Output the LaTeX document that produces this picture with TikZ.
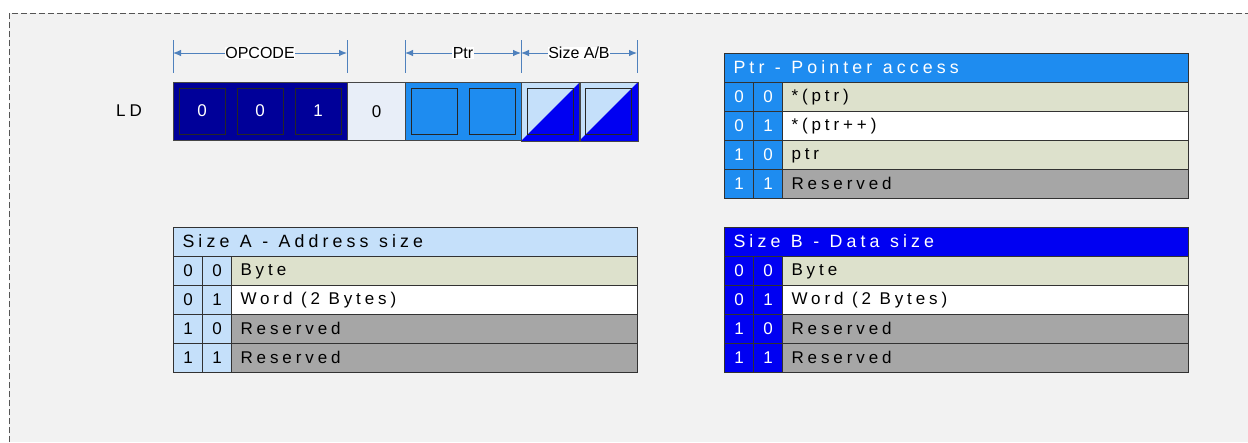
\documentclass[tikz,border=0pt]{standalone}
\usepackage{fontspec}
\setmainfont{Liberation Sans}
\newfontfamily\spc[LetterSpace=23]{Liberation Sans}
\usetikzlibrary{arrows.meta}
\definecolor{bgc}{RGB}{242,242,242}
\definecolor{borderc}{RGB}{85,85,85}
\definecolor{opc}{RGB}{0,0,153}
\definecolor{zeroc}{RGB}{232,238,248}
\definecolor{ptrc}{RGB}{30,140,240}
\definecolor{lightA}{RGB}{197,224,250}
\definecolor{blueB}{RGB}{0,0,242}
\definecolor{beige}{RGB}{221,225,204}
\definecolor{grayrow}{RGB}{166,166,166}
\definecolor{dimc}{RGB}{79,129,189}
\definecolor{segc}{RGB}{70,70,70}
\definecolor{tabc}{RGB}{50,50,50}
\newcommand{\tst}{\rule[-1pt]{0pt}{13pt}}
\newcommand{\wsp}{\hspace{8.5pt}}
\newcommand{\hsp}{\hspace{10.5pt}}
\tikzset{
  seg/.style={draw=segc, line width=1pt, minimum height=58pt, inner sep=0pt, anchor=north west},
  inbox/.style={draw=black!85, line width=1pt, minimum width=46pt, minimum height=46pt, inner sep=0pt, font=\fontsize{17}{20}\selectfont},
  dimline/.style={draw=dimc, line width=0.9pt, {Latex[length=8pt,width=6.5pt]}-{Latex[length=8pt,width=6.5pt]}},
  tickline/.style={draw=dimc, line width=0.9pt},
  dimlbl/.style={fill=white, inner sep=0.6pt, text=black, font=\fontsize{16}{18}\selectfont},
  cellbase/.style={draw=tabc, line width=1pt, minimum height=29pt, inner sep=0pt, anchor=north west},
  bitcell/.style={cellbase, minimum width=29pt, font=\fontsize{17}{20}\selectfont},
  ptrbit/.style={bitcell, fill=ptrc, text=white},
  abit/.style={bitcell, fill=lightA, text=black},
  bbit/.style={bitcell, fill=blueB, text=white},
  rowtxt/.style={cellbase, minimum width=406pt, text width=388pt, inner xsep=9pt, align=left, font=\spc\fontsize{17}{20}\selectfont},
  rbeige/.style={rowtxt, fill=beige},
  rwhite/.style={rowtxt, fill=white},
  rgray/.style={rowtxt, fill=grayrow},
  header/.style={cellbase, minimum width=464pt, text width=446pt, inner xsep=9pt, align=left, font=\spc\fontsize{17.8}{20}\selectfont},
}
\newcommand{\tabrow}[8]{%
  \node[#4] (#1a) at (#2,#3) {#5};
  \node[#4] (#1b) at (#2+29,#3) {#6};
  \node[#7] (#1c) at (#2+58,#3) {\tst#8};
}
\begin{document}
\begin{tikzpicture}[x=1pt,y=-1pt]
\useasboundingbox (0,0) rectangle (1248,442);
\fill[white] (0,0) rectangle (1248,442);
\fill[bgc] (9,13) rectangle (1248,442);
\coordinate (bl) at (9,442);
\coordinate (tl) at (9,13);
\coordinate (tr) at (1248,13);
\draw[borderc, line width=1pt, dash pattern=on 6pt off 3pt] (bl) -- (tl) -- (tr);

% dimension lines
\foreach \x [count=\i] in {173,347,405,521,637} {
  \coordinate (kt\i) at (\x,40);
  \coordinate (kb\i) at (\x,73);
  \coordinate (d\i) at (\x,53);
  \draw[tickline] (kt\i) -- (kb\i);
}
\draw[dimline] (d1) -- node[dimlbl]{OPCODE} (d2);
\draw[dimline] (d3) -- node[dimlbl]{Ptr} (d4);
\draw[dimline] (d4) -- node[dimlbl]{Size A/B} (d5);

% LD label
\node[font=\spc\fontsize{17}{20}\selectfont] (ld) at (129,111) {LD};

% register bar
\node[seg, fill=opc, minimum width=174pt] (opseg) at (173,82) {};
\node[seg, fill=zeroc, minimum width=58pt, font=\fontsize{17}{20}\selectfont] (zseg) at (347,82) {0};
\node[seg, fill=ptrc, minimum width=116pt] (pseg) at (405,82) {};
\node[seg, fill=lightA, minimum width=58pt] (saseg) at (521,82) {};
\node[seg, fill=lightA, minimum width=58pt] (sbseg) at (579,82) {};
\fill[blueB] (saseg.south west) -- (saseg.south east) -- (saseg.north east) -- cycle;
\fill[blueB] (sbseg.south west) -- (sbseg.south east) -- (sbseg.north east) -- cycle;

\node[inbox, fill=opc, text=white] (o1) at (202,111) {0};
\node[inbox, fill=opc, text=white] (o2) at (260,111) {0};
\node[inbox, fill=opc, text=white] (o3) at (318,111) {1};
\node[inbox, fill=ptrc] (p1) at (434,111) {};
\node[inbox, fill=ptrc] (p2) at (492,111) {};
\node[inbox] (s1) at (550,111) {};
\node[inbox] (s2) at (608,111) {};
\draw[segc, line width=1pt] (saseg.south west) rectangle (saseg.north east);
\draw[segc, line width=1pt] (sbseg.south west) rectangle (sbseg.north east);

% Ptr table
\node[header, fill=ptrc, text=white] (ph) at (724,53) {\tst Ptr\hsp-\hsp Pointer\hsp access};
\tabrow{pr1}{724}{82}{ptrbit}{0}{0}{rbeige}{*(ptr)}
\tabrow{pr2}{724}{111}{ptrbit}{0}{1}{rwhite}{*(ptr++)}
\tabrow{pr3}{724}{140}{ptrbit}{1}{0}{rbeige}{ptr}
\tabrow{pr4}{724}{169}{ptrbit}{1}{1}{rgray}{Reserved}

% Size A table
\node[header, fill=lightA, text=black] (ah) at (173,227) {\tst Size\hsp A\hsp -\hsp Address\hsp size};
\tabrow{ar1}{173}{256}{abit}{0}{0}{rbeige}{Byte}
\tabrow{ar2}{173}{285}{abit}{0}{1}{rwhite}{Word\wsp (2\wsp Bytes)}
\tabrow{ar3}{173}{314}{abit}{1}{0}{rgray}{Reserved}
\tabrow{ar4}{173}{343}{abit}{1}{1}{rgray}{Reserved}

% Size B table
\node[header, fill=blueB, text=white] (bh) at (724,227) {\tst Size\hsp B\hsp -\hsp Data\hsp size};
\tabrow{br1}{724}{256}{bbit}{0}{0}{rbeige}{Byte}
\tabrow{br2}{724}{285}{bbit}{0}{1}{rwhite}{Word\wsp (2\wsp Bytes)}
\tabrow{br3}{724}{314}{bbit}{1}{0}{rgray}{Reserved}
\tabrow{br4}{724}{343}{bbit}{1}{1}{rgray}{Reserved}
\end{tikzpicture}
\end{document}
